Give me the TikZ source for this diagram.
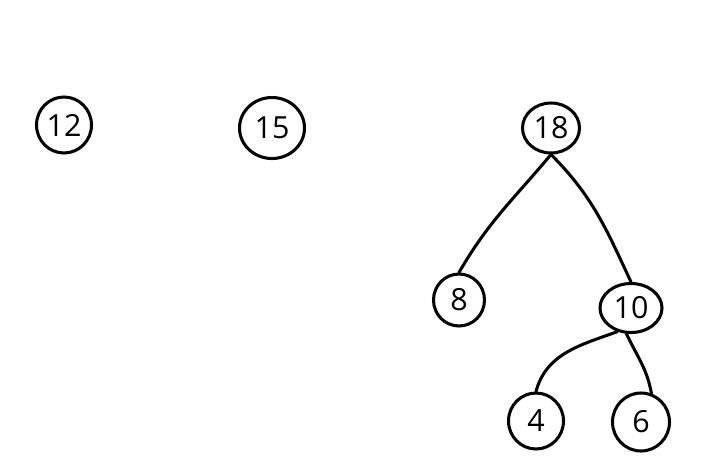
\documentclass[tikz,border=0pt]{standalone}
\usepackage{fontspec}
\setmainfont{Open Sans}
\usetikzlibrary{shapes.geometric}

\begin{document}
\begin{tikzpicture}[
    x=0.03cm, y=-0.03cm,
    num/.style={draw, ellipse, line width=2.6pt, inner sep=0pt,
                font=\fontsize{26}{30}\selectfont},
    link/.style={line width=2.6pt, line cap=round}
]
\useasboundingbox (0,0) rectangle (705,465);
\node[num, minimum width=1.65cm, minimum height=1.68cm] (n12) at (64,125) {12};
\node[num, minimum width=1.95cm, minimum height=1.83cm] (n15) at (272,128) {15};
\node[num, minimum width=1.71cm, minimum height=1.5cm]  (n18) at (551,128) {18};
\node[num, minimum width=1.53cm, minimum height=1.56cm] (n8)  at (459,300) {8};
\node[num, minimum width=1.86cm, minimum height=1.47cm] (n10) at (631,308) {10};
\node[num, minimum width=1.65cm, minimum height=1.68cm] (n4)  at (536,421) {4};
\node[num, minimum width=1.71cm, minimum height=1.74cm] (n6)  at (641,422) {6};
\draw[link] (n18.south) to[out=-130,in=60] (n8.north);
\draw[link] (n18.south) to[out=-45,in=115] (n10.north);
\draw[link] (n10.-120) to[out=200,in=75] (n4.north);
\draw[link] (n10.-100) to[out=-65,in=100] (n6.70);
\end{tikzpicture}
\end{document}
